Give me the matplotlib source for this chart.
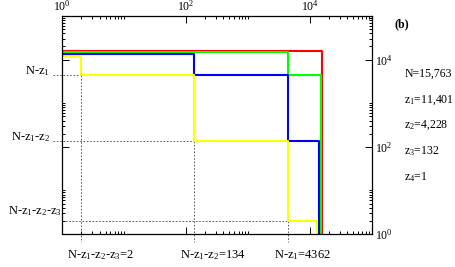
import matplotlib
matplotlib.use('Agg')
import matplotlib.pyplot as plt
import matplotlib.transforms as mtransforms
from matplotlib.ticker import FixedLocator, NullFormatter

plt.rcParams['font.family'] = 'Liberation Serif'
plt.rcParams['mathtext.fontset'] = 'custom'
plt.rcParams['mathtext.rm'] = 'Liberation Serif'
plt.rcParams['mathtext.it'] = 'Liberation Serif:italic'

# summary values
N = 15763
z_vals = [11401, 4228, 132, 1]
levels = [4362, 134, 2]   # N-z1, N-z1-z2, N-z1-z2-z3

# step curves
red_x = [1, 15763, 15763]
red_y = [15763, 15763, 1]
green_x = [1, 4362, 4362, 14800, 14800]
green_y = [14700, 14700, 4362, 4362, 1]
blue_x = [1, 134, 134, 4362, 4362, 13900, 13900]
blue_y = [13600, 13600, 4362, 4362, 134, 134, 1]
yellow_x = [1, 2, 2, 134, 134, 4362, 4362, 13100, 13100]
yellow_y = [12200, 12200, 4362, 4362, 134, 134, 2, 2, 1]

left_labels = ['N-z$_1$', 'N-z$_1$-z$_2$', 'N-z$_1$-z$_2$-z$_3$']
bottom_labels = ['N-z$_1$-z$_2$-z$_3$=2', 'N-z$_1$-z$_2$=134', 'N-z$_1$=4362']
right_labels = ['N=15,763', 'z$_1$=11,401', 'z$_2$=4,228', 'z$_3$=132', 'z$_4$=1']

fig = plt.figure(figsize=(4.56, 2.67), dpi=100)
ax = fig.add_axes([0.1366, 0.1236, 0.6792, 0.8164])

lw = 1.5
ax.plot(red_x, red_y, color='#ff0000', lw=lw)
ax.plot(green_x, green_y, color='#00ff00', lw=lw)
ax.plot(blue_x, blue_y, color='#0000ff', lw=lw)
ax.plot(yellow_x, yellow_y, color='#ffff00', lw=lw)

ax.set_xscale('log')
ax.set_yscale('log')
ax.set_xlim(1, 1e5)
ax.set_ylim(1, 1e5)

# dashed guides (horizontal from the left label, vertical down to the bottom label)
guide_x = [2, 134, 4362]
dash_start = [0.72, 0.72, 1.0]
for lv, gx, x0 in zip(levels, guide_x, dash_start):
    ax.plot([x0, gx], [lv, lv], color='#444444', lw=0.6, ls=(0, (2, 2)), clip_on=False, zorder=1)
    ax.plot([gx, gx], [lv, 0.66], color='#444444', lw=0.6, ls=(0, (2, 2)), clip_on=False, zorder=1)

blend = mtransforms.blended_transform_factory(ax.transAxes, ax.transData)
left_x = [-0.04, -0.04, -0.002]
left_dy = [3, 3, 7]
for lab, lv, lx, dy in zip(left_labels, levels, left_x, left_dy):
    ax.annotate(lab, xy=(lx, lv), xycoords=blend, xytext=(0, dy), textcoords='offset points',
                ha='right', va='center', fontsize=9)

blend_b = mtransforms.blended_transform_factory(ax.transData, ax.transAxes)
for lab, gx in zip(bottom_labels, guide_x):
    ax.annotate(lab, xy=(gx, 0), xycoords=blend_b, xytext=(-10, -10), textcoords='offset points',
                ha='left', va='top', fontsize=9)

for i, lab in enumerate(right_labels):
    ax.text(1.104, 0.733 - i * 0.1175, lab, transform=ax.transAxes, ha='left', va='center', fontsize=8.5)

ax.text(1.072, 0.96, '(b)', transform=ax.transAxes, ha='left', va='center', fontsize=8.5, fontweight='bold')

# ticks: majors every two decades, minors only in even decades
majors = [1, 1e2, 1e4]
minors = [m * 10**d for d in (0, 2, 4) for m in range(2, 10)] + [10, 1e3]
for axis in (ax.xaxis, ax.yaxis):
    axis.set_major_locator(FixedLocator(majors))
    axis.set_minor_locator(FixedLocator(minors))
    axis.set_minor_formatter(NullFormatter())
ax.tick_params(which='both', direction='in', top=True, right=True,
               labeltop=True, labelbottom=False, labelright=True, labelleft=False,
               labelsize=8.5, width=0.7)
ax.tick_params(which='major', length=5, pad=2)
ax.tick_params(which='minor', length=2.5)
for s in ax.spines.values():
    s.set_linewidth(0.9)

fig.savefig('out.png', dpi=100)
